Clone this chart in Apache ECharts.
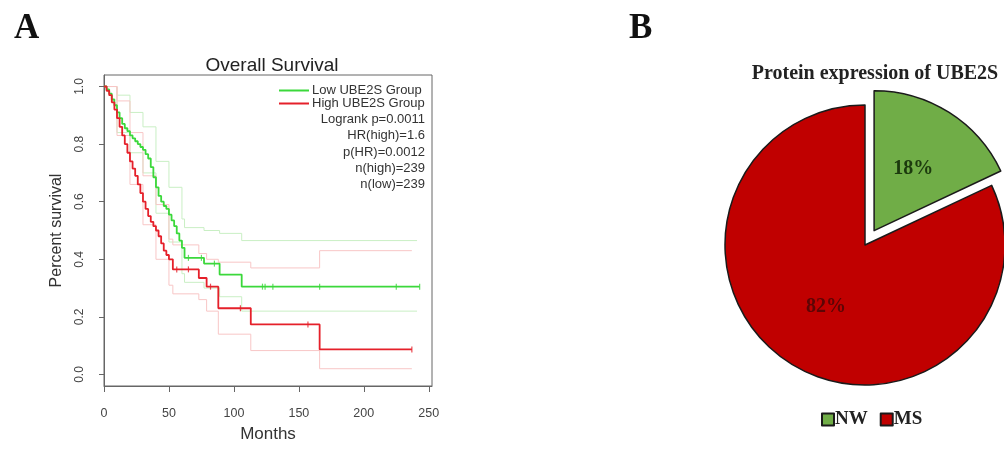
<!DOCTYPE html>
<html>
<head>
<meta charset="utf-8">
<script src="https://cdn.jsdelivr.net/npm/echarts@6/dist/echarts.min.js"></script>
<style>
  html, body { margin: 0; padding: 0; background: #fff; }
  #chart { width: 1004px; height: 449px; }
</style>
</head>
<body>
<div id="chart"></div>
<script>
// Kaplan-Meier curves, [months, survival]
const lowGroup = [
  [0, 1.0], [2, 0.99], [4, 0.975], [6, 0.955], [8, 0.935], [10, 0.91], [12, 0.89], [14, 0.87],
  [16, 0.855], [18, 0.845], [20, 0.83], [22, 0.82], [24, 0.81], [26, 0.80], [28, 0.79], [30, 0.78],
  [32, 0.765], [34, 0.75], [36, 0.72], [38, 0.685], [40, 0.65], [42, 0.62], [44, 0.60], [46, 0.585],
  [48, 0.575], [50, 0.555], [52, 0.535], [54, 0.515], [56, 0.49], [58, 0.465], [60, 0.44], [62, 0.405],
  [77, 0.385], [89, 0.347], [106, 0.305], [243, 0.305]
]
const highGroup = [
  [0, 1.0], [2, 0.985], [4, 0.97], [6, 0.945], [8, 0.92], [10, 0.89], [12, 0.86], [14, 0.83],
  [16, 0.80], [18, 0.77], [20, 0.74], [22, 0.715], [24, 0.69], [26, 0.66], [28, 0.63], [30, 0.60],
  [32, 0.575], [34, 0.55], [36, 0.53], [38, 0.515], [40, 0.50], [42, 0.48], [44, 0.455], [46, 0.43],
  [48, 0.415], [50, 0.40], [53, 0.365], [73, 0.335], [79, 0.305], [88, 0.23], [113, 0.174],
  [166, 0.087], [237, 0.087]
]
// confidence bands
const lowUpper = [
  [0, 1.0], [10, 0.97], [20, 0.91], [30, 0.86], [40, 0.74], [50, 0.65], [60, 0.54], [62, 0.51],
  [77, 0.50], [89, 0.49], [106, 0.465], [241, 0.465]
]
const lowLower = [
  [0, 1.0], [10, 0.84], [20, 0.77], [30, 0.70], [40, 0.56], [50, 0.46], [60, 0.35], [62, 0.32],
  [77, 0.30], [89, 0.27], [106, 0.22], [241, 0.22]
]
const highUpper = [
  [0, 1.0], [10, 0.95], [20, 0.84], [30, 0.69], [40, 0.59], [50, 0.47], [53, 0.45], [73, 0.42],
  [79, 0.40], [88, 0.39], [113, 0.37], [166, 0.43], [237, 0.43]
]
const highLower = [
  [0, 1.0], [10, 0.83], [20, 0.66], [30, 0.52], [40, 0.40], [50, 0.31], [53, 0.28], [73, 0.26],
  [79, 0.22], [88, 0.14], [113, 0.083], [166, 0.02], [237, 0.02]
]
// censored observations
const lowCensor = [[65, 0.405], [75, 0.405], [85, 0.385], [122, 0.305], [124, 0.305], [130, 0.305], [166, 0.305], [225, 0.305], [243, 0.305]]
const highCensor = [[56, 0.365], [65, 0.365], [82, 0.305], [105, 0.23], [157, 0.174], [237, 0.087]]

const xTicks = [0, 50, 100, 150, 200, 250]
const yTicks = [0, 0.2, 0.4, 0.6, 0.8, 1.0]
const statsLines = ['Logrank p=0.0011', 'HR(high)=1.6', 'p(HR)=0.0012', 'n(high)=239', 'n(low)=239']

const pieNames = ['NW', 'MS']
const pieValues = [18, 82]

const green = '#3bd83b'
const red = '#e5202a'
const sans = 'Liberation Sans'
const serif = 'Liberation Serif'

const chart = echarts.init(document.getElementById('chart'))

const kmLine = (name, data, color, width) => ({
  name,
  type: 'line',
  step: 'end',
  data,
  symbol: 'none',
  lineStyle: { color, width },
  itemStyle: { color },
  silent: true,
  z: width > 1 ? 3 : 2
})

const censorMarks = (data, color) => ({
  type: 'scatter',
  data,
  symbol: 'rect',
  symbolSize: [1.2, 6],
  itemStyle: { color },
  silent: true,
  z: 4
})

const option = {
  animation: false,
  backgroundColor: '#fff',
  title: [
    { text: 'A', left: 9, top: 6, textStyle: { fontFamily: serif, fontWeight: 'bold', fontSize: 35, color: '#111' } },
    { text: 'Overall Survival', left: 267, top: 51, textAlign: 'center', textStyle: { fontFamily: sans, fontWeight: 'normal', fontSize: 19, color: '#222' } },
    { text: 'B', left: 624, top: 6, textStyle: { fontFamily: serif, fontWeight: 'bold', fontSize: 35, color: '#111' } },
    { text: 'Protein expression of UBE2S', left: 870, top: 59, textAlign: 'center', textStyle: { fontFamily: serif, fontWeight: 'bold', fontSize: 20, color: '#222' } }
  ],
  legend: [
    {
      data: ['Low UBE2S Group', 'High UBE2S Group'],
      orient: 'vertical',
      left: 274,
      top: 79,
      icon: 'rect',
      itemWidth: 30,
      itemHeight: 2,
      itemGap: 0,
      textStyle: { fontFamily: sans, fontSize: 13, color: '#333', padding: [0, 0, 0, -2] }
    },
    {
      data: pieNames,
      left: 816,
      top: 405,
      icon: 'rect',
      itemWidth: 12,
      itemHeight: 12,
      itemGap: 12,
      textStyle: { fontFamily: serif, fontWeight: 'bold', fontSize: 19, color: '#222', padding: [0, 0, 0, -4] }
    }
  ],
  grid: {
    left: 104,
    right: 572,
    top: 75,
    bottom: 63,
    show: true,
    borderColor: '#666',
    borderWidth: 1
  },
  xAxis: {
    type: 'value',
    min: 0,
    max: 252.5,
    name: 'Months',
    nameLocation: 'middle',
    nameGap: 40,
    nameTextStyle: { fontFamily: sans, fontSize: 17, color: '#333' },
    axisLine: { show: true, onZero: false, lineStyle: { color: '#666' } },
    axisTick: { show: true, length: 6, customValues: xTicks, lineStyle: { color: '#666' } },
    axisLabel: { customValues: xTicks, margin: 21, fontFamily: sans, fontSize: 12.5, color: '#444' },
    splitLine: { show: false }
  },
  yAxis: {
    type: 'value',
    min: -0.04,
    max: 1.04,
    name: 'Percent survival',
    nameLocation: 'middle',
    nameGap: 39,
    nameTextStyle: { fontFamily: sans, fontSize: 16, color: '#333' },
    axisLine: { show: true, onZero: false, lineStyle: { color: '#666' } },
    axisTick: { show: true, length: 5, customValues: yTicks, lineStyle: { color: '#666' } },
    axisLabel: {
      customValues: yTicks,
      rotate: 90,
      margin: 18,
      fontFamily: sans,
      fontSize: 12,
      color: '#444',
      formatter: v => v.toFixed(1)
    },
    splitLine: { show: false }
  },
  graphic: statsLines.map((t, i) => ({
    type: 'text',
    right: 1004 - 425,
    top: 113 + i * 16.3,
    style: { text: t, fontFamily: sans, fontSize: 13, fill: '#333', textAlign: 'right' }
  })),
  series: [
    kmLine('low upper', lowUpper, '#c9efc4', 1),
    kmLine('low lower', lowLower, '#c9efc4', 1),
    kmLine('high upper', highUpper, '#f8c6c6', 1),
    kmLine('high lower', highLower, '#f8c6c6', 1),
    kmLine('Low UBE2S Group', lowGroup, green, 1.8),
    kmLine('High UBE2S Group', highGroup, red, 1.8),
    censorMarks(lowCensor, green),
    censorMarks(highCensor, red),
    {
      type: 'pie',
      center: [865, 245],
      radius: 140,
      startAngle: 90,
      clockwise: true,
      selectedMode: 'single',
      selectedOffset: 17,
      silent: true,
      itemStyle: { borderColor: '#1a1a1a', borderWidth: 1.5 },
      label: {
        position: 'inside',
        formatter: '{c}%',
        fontFamily: serif,
        fontWeight: 'bold',
        fontSize: 20
      },
      labelLine: { show: false },
      data: pieNames.map((name, i) => ({
        name,
        value: pieValues[i],
        selected: i === 0,
        itemStyle: { color: i === 0 ? '#70ad47' : '#c00000' },
        label: { color: i === 0 ? '#1c3a0e' : '#5c0505' }
      }))
    }
  ]
}

chart.setOption(option)
</script>
</body>
</html>
